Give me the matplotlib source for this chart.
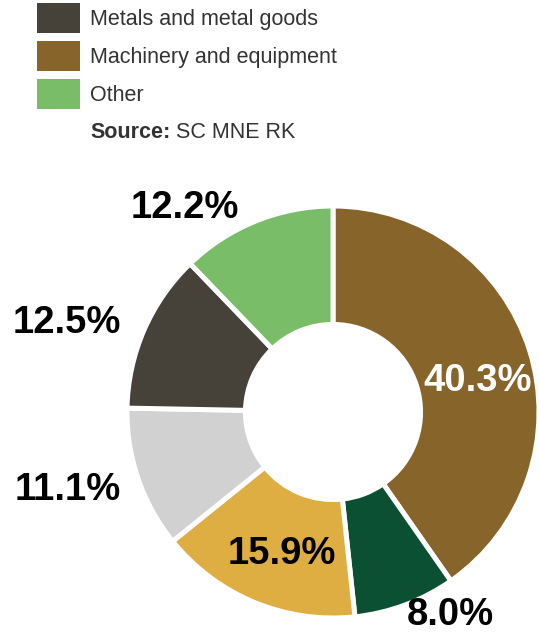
import numpy as np
import matplotlib
matplotlib.use("Agg")
import matplotlib.pyplot as plt
from matplotlib.patches import Patch

plt.rcParams['font.family'] = ['Liberation Sans', 'DejaVu Sans']

# shares by product group, clockwise from 12 o'clock
shares = [40.3, 8.0, 15.9, 11.1, 12.5, 12.2]
colors = ['#87642A', '#0B5033', '#DEAE43', '#D1D1D1', '#46423A', '#79BD68']
label_colors = ['white', 'black', 'black', 'black', 'black', 'black']

legend_names = ['Metals and metal goods', 'Machinery and equipment', 'Other']
legend_colors = ['#46423A', '#87642A', '#79BD68']

# where each percentage sits (x, y in pie radius units)
label_pos = [(0.70, 0.15), (0.57, -0.985), (-0.25, -0.69),
             (-1.29, -0.38), (-1.29, 0.43), (-0.72, 0.99)]

fig = plt.figure(figsize=(5.39, 6.38), dpi=100)
ax = fig.add_axes([0, 0, 1, 1])

ax.pie(shares, colors=colors, startangle=90, counterclock=False,
       radius=1.0, wedgeprops=dict(width=0.575, edgecolor='white', linewidth=3.6))

for val, (x, y), c in zip(shares, label_pos, label_colors):
    ax.text(x, y, f"{val:.1f}%", ha='center', va='center', fontsize=27.5,
            fontweight='bold', color=c)

# pixel layout: centre at (333, 412), radius 206 px
ax.set_aspect('auto')
ax.set_xlim(-333 / 206, 206 / 206)
ax.set_ylim(-226 / 206, 412 / 206)
ax.axis('off')

handles = [Patch(facecolor=c, edgecolor='none') for c in legend_colors]
fig.legend(handles, legend_names, loc='upper left', bbox_to_anchor=(37 / 539, 1 - 3 / 638),
           frameon=False, fontsize=15.5, handlelength=2.0, handleheight=1.77,
           handletextpad=0.47, labelspacing=0.36, borderpad=0, borderaxespad=0,
           labelcolor='#333333')

src = ax.text(90 / 539, 1 - 133 / 638, "Source:", transform=fig.transFigure,
              ha='left', va='center', fontsize=15.5, fontweight='bold', color='#333333')
ax.annotate(" SC MNE RK", xy=(1, 0.5), xycoords=src, ha='left', va='center',
            fontsize=15.5, color='#333333')

fig.savefig("out.png", dpi=100)
